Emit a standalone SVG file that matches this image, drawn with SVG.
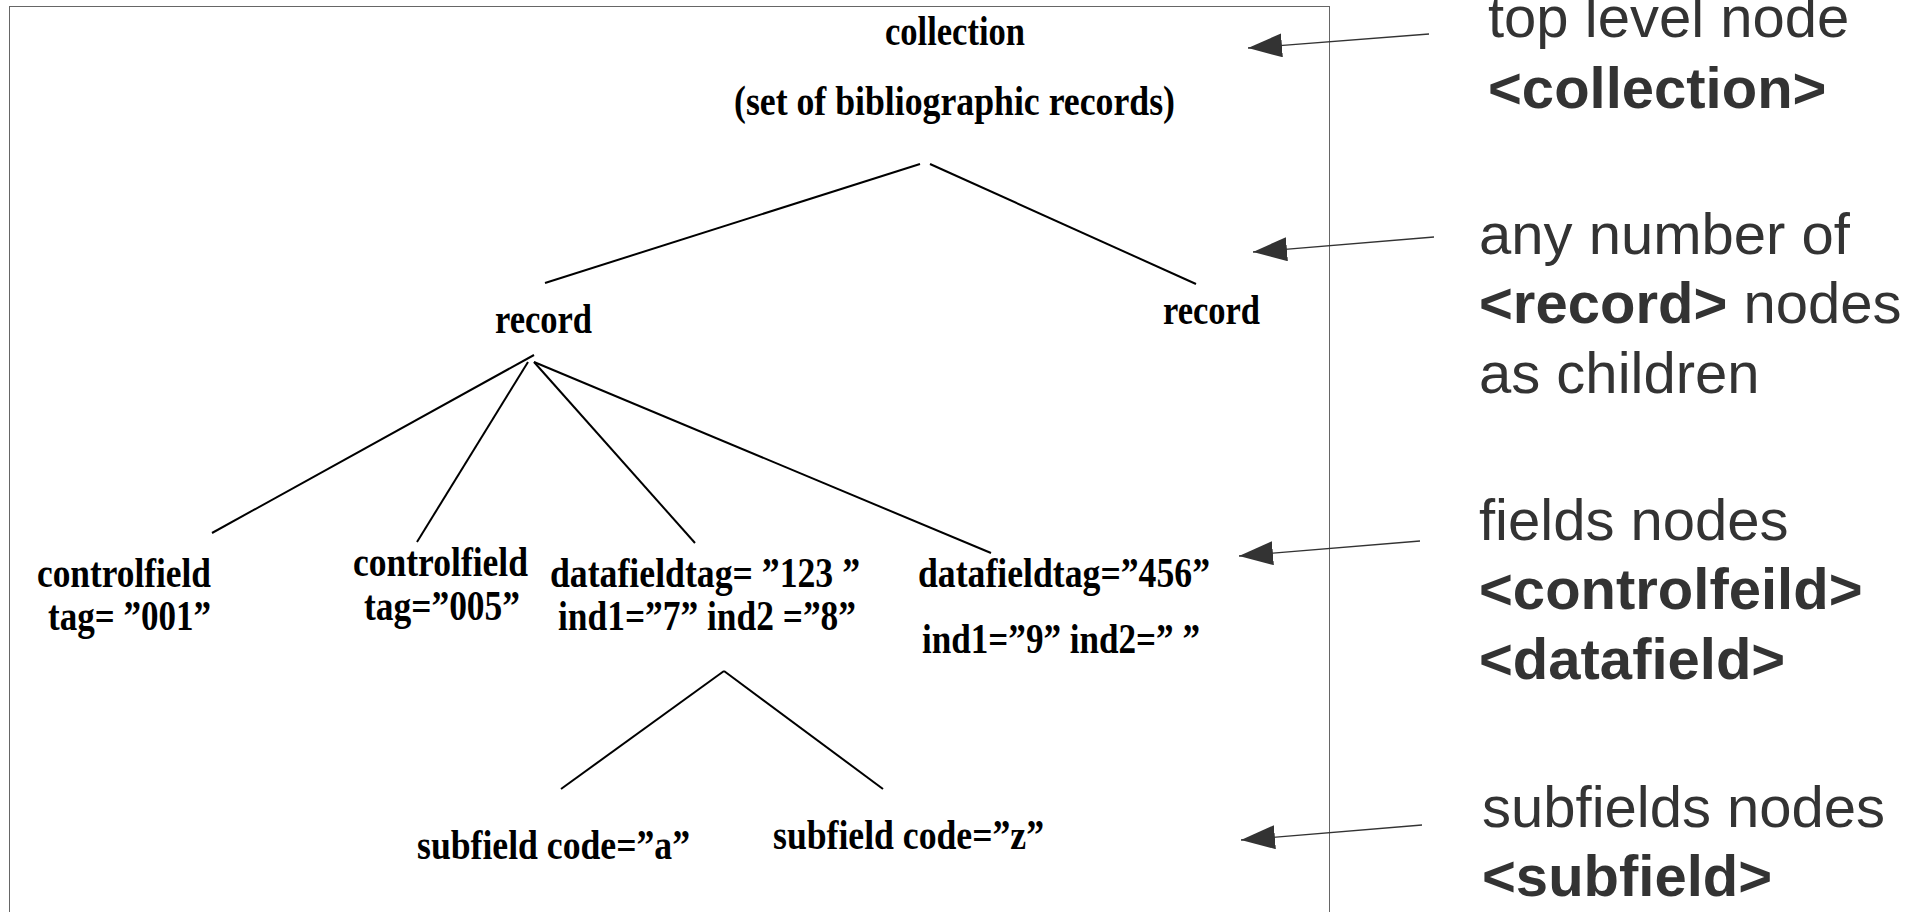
<svg xmlns="http://www.w3.org/2000/svg" width="1924" height="912" viewBox="0 0 1924 912">
<style>
.t{font-family:"Liberation Serif","Times New Roman",serif;font-weight:bold;font-size:42px;fill:#000}
.n{font-family:"Liberation Sans",Arial,sans-serif;font-size:58px;fill:#333}
.b{font-weight:bold}
.e{stroke:#000;stroke-width:2;fill:none}
.a{stroke:#333;stroke-width:1.3;fill:none}
</style>
<defs>
<marker id="ah" markerUnits="userSpaceOnUse" markerWidth="36" markerHeight="26" refX="34" refY="12" orient="auto">
<path d="M0,0 L34,12 L0,24 Z" fill="#333"/>
</marker>
</defs>
<rect width="1924" height="912" fill="#fff"/>
<rect x="9.5" y="6.5" width="1320" height="1000" fill="none" stroke="#666" stroke-width="1"/>
<g id="connectors">
<line class="e" x1="920" y1="164" x2="545" y2="283"/>
<line class="e" x1="930" y1="164" x2="1196" y2="284"/>
<line class="e" x1="534" y1="355" x2="212" y2="533"/>
<line class="e" x1="528" y1="362" x2="417" y2="542"/>
<line class="e" x1="534" y1="362" x2="695" y2="543"/>
<line class="e" x1="534" y1="362" x2="991" y2="553"/>
<line class="e" x1="724" y1="671" x2="561" y2="789"/>
<line class="e" x1="724" y1="671" x2="883" y2="789"/>
<line class="a" x1="1429" y1="34" x2="1248" y2="48" marker-end="url(#ah)"/>
<line class="a" x1="1434" y1="237" x2="1253" y2="252" marker-end="url(#ah)"/>
<line class="a" x1="1420" y1="541" x2="1239" y2="556" marker-end="url(#ah)"/>
<line class="a" x1="1422" y1="825" x2="1241" y2="840" marker-end="url(#ah)"/>
</g>
<g id="collection">
<text class="t" x="885" y="45" textLength="140" lengthAdjust="spacingAndGlyphs">collection</text>
<text class="t" x="734" y="115" textLength="441" lengthAdjust="spacingAndGlyphs">(set of bibliographic records)</text>
</g>
<g id="record1"><text class="t" x="495" y="333" textLength="97" lengthAdjust="spacingAndGlyphs">record</text></g>
<g id="record2"><text class="t" x="1163" y="324" textLength="97" lengthAdjust="spacingAndGlyphs">record</text></g>
<g id="controlfield1">
<text class="t" x="37" y="587" textLength="174" lengthAdjust="spacingAndGlyphs">controlfield</text>
<text class="t" x="48" y="630" textLength="163" lengthAdjust="spacingAndGlyphs">tag= ”001”</text>
</g>
<g id="controlfield2">
<text class="t" x="353" y="576" textLength="175" lengthAdjust="spacingAndGlyphs">controlfield</text>
<text class="t" x="364" y="620" textLength="156" lengthAdjust="spacingAndGlyphs">tag=”005”</text>
</g>
<g id="datafield1">
<text class="t" x="550" y="587" textLength="310" lengthAdjust="spacingAndGlyphs">datafieldtag= ”123 ”</text>
<text class="t" x="558" y="630" textLength="298" lengthAdjust="spacingAndGlyphs">ind1=”7” ind2 =”8”</text>
</g>
<g id="datafield2">
<text class="t" x="918" y="587" textLength="292" lengthAdjust="spacingAndGlyphs">datafieldtag=”456”</text>
<text class="t" x="922" y="653" textLength="278" lengthAdjust="spacingAndGlyphs">ind1=”9” ind2=” ”</text>
</g>
<g id="subfield1"><text class="t" x="417" y="859" textLength="273" lengthAdjust="spacingAndGlyphs">subfield code=”a”</text></g>
<g id="subfield2"><text class="t" x="773" y="849" textLength="271" lengthAdjust="spacingAndGlyphs">subfield code=”z”</text></g>
<g id="note-top">
<text class="n" x="1488" y="37">top level node</text>
<text class="n b" x="1488" y="108">&lt;collection&gt;</text>
</g>
<g id="note-record">
<text class="n" x="1479" y="254">any number of</text>
<text class="n" x="1479" y="323"><tspan class="b">&lt;record&gt;</tspan> nodes</text>
<text class="n" x="1479" y="393">as children</text>
</g>
<g id="note-fields">
<text class="n" x="1479" y="540">fields nodes</text>
<text class="n b" x="1479" y="609">&lt;controlfeild&gt;</text>
<text class="n b" x="1479" y="679">&lt;datafield&gt;</text>
</g>
<g id="note-subfields">
<text class="n" x="1482" y="827">subfields nodes</text>
<text class="n b" x="1482" y="896">&lt;subfield&gt;</text>
</g>
</svg>
